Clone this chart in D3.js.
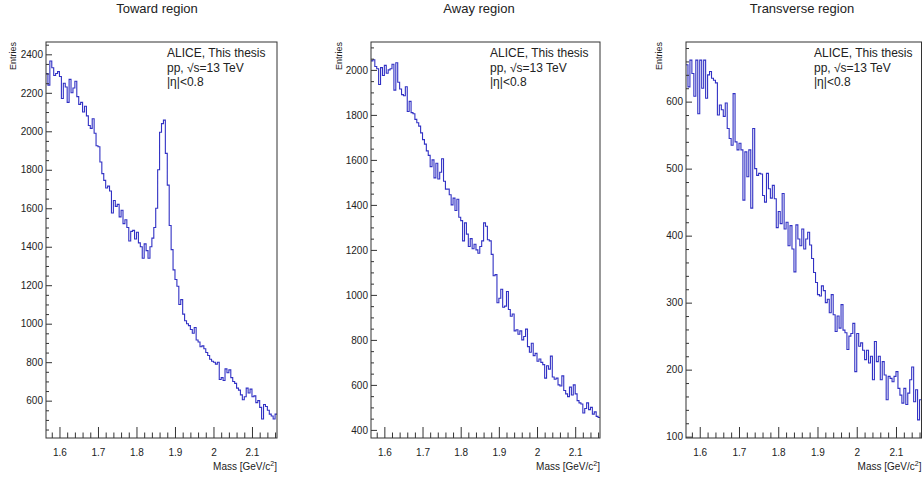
<!DOCTYPE html>
<html>
<head>
<meta charset="utf-8">
<script src="https://cdn.jsdelivr.net/npm/d3@7"></script>
<style>
  body { margin: 0; background: #fff; }
  text { font-family: "Liberation Sans", Arial, Helvetica, sans-serif; fill: #222; }
</style>
</head>
<body>
<svg id="chart" width="923" height="481"></svg>
<script>
// Invariant-mass histograms: 120 bins of 5 MeV from 1.565 to 2.165 GeV/c^2
const binStart = 1.565;
const binWidth = 0.005;

const towardCounts = [
  2300, 2240, 2365, 2330, 2290, 2300, 2310, 2285, 2170, 2250,
  2230, 2150, 2270, 2200, 2225, 2260, 2180, 2140, 2150, 2100,
  2130, 2080, 2030, 2015, 2065, 1990, 1925, 1920, 1840, 1780,
  1745, 1705, 1715, 1690, 1575, 1640, 1610, 1620, 1555, 1590,
  1520, 1540, 1500, 1430, 1480, 1485, 1440, 1475, 1420, 1400,
  1340, 1415, 1380, 1340, 1400, 1445, 1500, 1600, 1800, 1995,
  2040, 2058, 1885, 1720, 1510, 1385, 1280, 1230, 1195, 1100,
  1125, 1050, 1015, 1000, 990, 970, 950, 980, 915, 905,
  880, 885, 870, 850, 835, 815, 805, 800, 790, 800,
  710, 720, 705, 765, 745, 760, 720, 700, 690, 665,
  655, 630, 605, 620, 665, 640, 660, 620, 625, 590,
  600, 565, 505, 580, 570, 550, 530, 520, 505, 530
];

const awayCounts = [
  2040, 2045, 2015, 2005, 1935, 2010, 1975, 2020, 1985, 2000,
  2005, 2025, 1910, 2032, 1945, 1915, 1890, 1885, 1925, 1815,
  1860, 1810, 1805, 1780, 1765, 1750, 1720, 1690, 1670, 1640,
  1620, 1570, 1600, 1520, 1585, 1515, 1545, 1605, 1505, 1470,
  1470, 1445, 1400, 1430, 1375, 1425, 1345, 1330, 1240, 1320,
  1270, 1215, 1250, 1205, 1225, 1200, 1185, 1215, 1240, 1320,
  1305, 1245, 1240, 1180, 1085, 1090, 965, 985, 1025, 945,
  950, 1015, 935, 905, 915, 840, 845, 825, 840, 800,
  815, 848, 770, 745, 785, 730, 740, 705, 715, 700,
  690, 630, 685, 670, 728, 635, 625, 630, 600, 595,
  640, 575, 560, 548, 590, 555, 600, 560, 530, 520,
  515, 475, 495, 520, 490, 500, 470, 480, 460, 455
];

const transverseCounts = [
  655, 622, 662, 642, 608, 662, 582, 662, 620, 662,
  605, 640, 645, 635, 632, 628, 580, 595, 588, 578,
  598, 560, 545, 535, 612, 540, 528, 538, 528, 453,
  525, 488, 528, 441, 560, 500, 490, 493, 492, 460,
  450, 493, 470, 456, 475, 455, 412, 436, 418, 463,
  410, 420, 385, 415, 380, 346, 416, 395, 385, 410,
  380, 395, 405, 386, 366, 345, 330, 312, 310, 325,
  318, 300, 305, 285, 312, 282, 257, 280, 262, 297,
  259, 255, 230, 250, 254, 269, 197, 254, 235, 240,
  229, 215, 229, 210, 220, 185, 242, 212, 220, 185,
  212, 192, 155, 190, 187, 182, 190, 197, 172, 162,
  150, 172, 148, 165, 185, 204, 152, 170, 125, 155
];

const panelTitles = ["Toward region", "Away region", "Transverse region"];
const massTicks = [1.6, 1.7, 1.8, 1.9, 2.0, 2.1];
const towardTicks = [600, 800, 1000, 1200, 1400, 1600, 1800, 2000, 2200, 2400];
const awayTicks = [400, 600, 800, 1000, 1200, 1400, 1600, 1800, 2000];
const transverseTicks = [100, 200, 300, 400, 500, 600];
const legendLines = ["ALICE, This thesis", "pp, \u221As=13 TeV", "|\u03B7|<0.8"];

// Pad geometry and axis ranges for each panel
const panels = [
  { title: panelTitles[0], counts: towardCounts, yTicks: towardTicks, yMinor: 50,
    yDomain: [406, 2464], left: 46, right: 277, titleX: 157, legendX: 167, entriesX: 16 },
  { title: panelTitles[1], counts: awayCounts, yTicks: awayTicks, yMinor: 50,
    yDomain: [364, 2124], left: 371, right: 600, titleX: 479, legendX: 490, entriesX: 342 },
  { title: panelTitles[2], counts: transverseCounts, yTicks: transverseTicks, yMinor: 20,
    yDomain: [98, 689], left: 686, right: 921.5, titleX: 802, legendX: 814, entriesX: 662 }
];

const frameTop = 42, frameBottom = 438;
const lineColor = "#3131c4";
const axisColor = "#333";

const svg = d3.select("#chart");

panels.forEach((p, idx) => {
  const x = d3.scaleLinear().domain([binStart, binStart + binWidth * p.counts.length]).range([p.left, p.right]);
  const y = d3.scaleLinear().domain(p.yDomain).range([frameBottom, frameTop]);
  const g = svg.append("g");

  // Title
  g.append("text").attr("x", p.titleX).attr("y", 13).attr("text-anchor", "middle")
    .style("font-size", "13px").text(p.title);

  // Histogram (step outline)
  const clipId = "clip" + idx;
  svg.append("clipPath").attr("id", clipId).append("rect")
    .attr("x", p.left).attr("y", frameTop).attr("width", p.right - p.left).attr("height", frameBottom - frameTop);
  const pts = p.counts.map((c, i) => [binStart + i * binWidth, c]);
  pts.push([binStart + p.counts.length * binWidth, p.counts[p.counts.length - 1]]);
  const line = d3.line().x(d => x(d[0])).y(d => y(d[1])).curve(d3.curveStepAfter);
  g.append("path").attr("d", line(pts)).attr("fill", "none")
    .attr("stroke", lineColor).attr("stroke-width", 1.1).attr("clip-path", `url(#${clipId})`);

  // X axis: major and minor ticks pointing into the frame
  const xMinor = d3.range(1.58, 2.165, 0.02).filter(v => !massTicks.some(t => Math.abs(t - v) < 1e-6));
  const xAxisG = g.append("g").attr("transform", `translate(0,${frameBottom})`);
  xAxisG.call(d3.axisBottom(x).tickValues(massTicks).tickSize(-11).tickPadding(11)
    .tickFormat(d => String(+d.toFixed(2))));
  xAxisG.call(g2 => g2.selectAll(".tick text").style("font-size", "10px").attr("fill", "#222"));
  const xMinorG = g.append("g").attr("transform", `translate(0,${frameBottom})`);
  xMinorG.call(d3.axisBottom(x).tickValues(xMinor).tickSize(-5.5).tickFormat(""));

  // Y axis
  const yLo = p.yDomain[0], yHi = p.yDomain[1];
  const yMinor = d3.range(Math.ceil(yLo / p.yMinor) * p.yMinor, yHi, p.yMinor)
    .filter(v => !p.yTicks.includes(v));
  const yAxisG = g.append("g").attr("transform", `translate(${p.left},0)`);
  yAxisG.call(d3.axisLeft(y).tickValues(p.yTicks).tickSize(-6).tickPadding(3).tickFormat(d3.format("d")));
  yAxisG.call(g2 => g2.selectAll(".tick text").style("font-size", "10px").attr("fill", "#222"));
  const yMinorG = g.append("g").attr("transform", `translate(${p.left},0)`);
  yMinorG.call(d3.axisLeft(y).tickValues(yMinor).tickSize(-3).tickFormat(""));

  [xAxisG, xMinorG, yAxisG, yMinorG].forEach(a => {
    a.select(".domain").remove();
    a.selectAll(".tick line").attr("stroke", axisColor);
  });

  // Frame
  g.append("rect").attr("x", p.left).attr("y", frameTop)
    .attr("width", p.right - p.left).attr("height", frameBottom - frameTop)
    .attr("fill", "none").attr("stroke", axisColor).attr("stroke-width", 1);

  // Axis titles
  g.append("text").attr("transform", `translate(${p.entriesX},${frameTop}) rotate(-90)`)
    .attr("text-anchor", "end").style("font-size", "9px").text("Entries");
  const mt = g.append("text").attr("x", p.right).attr("y", 470).attr("text-anchor", "end")
    .style("font-size", "10px");
  mt.append("tspan").text("Mass [GeV/c");
  mt.append("tspan").attr("dy", -4).style("font-size", "7px").text("2");
  mt.append("tspan").attr("dy", 4).text("]");

  // Legend text
  legendLines.forEach((t, i) => {
    g.append("text").attr("x", p.legendX).attr("y", 57.3 + i * 14.3)
      .style("font-size", "12px").text(t);
  });
});
</script>
</body>
</html>
